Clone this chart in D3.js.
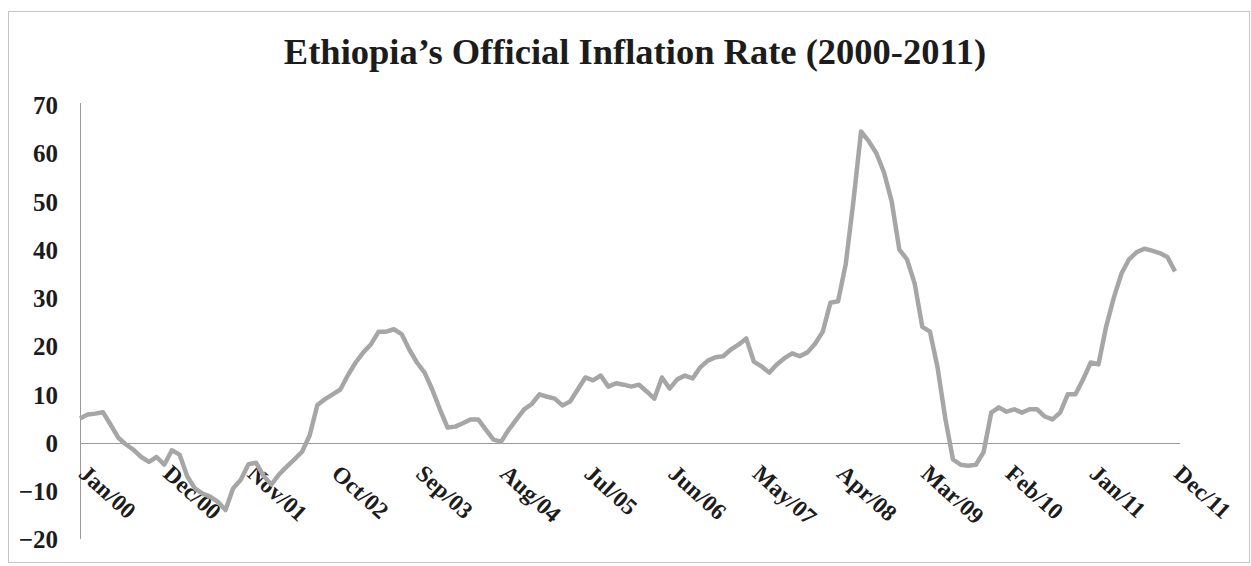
<!DOCTYPE html>
<html>
<head>
<meta charset="utf-8">
<script src="https://cdn.jsdelivr.net/npm/d3@7"></script>
<style>
  body { margin: 0; background: #fff; }
  text { font-family: "Liberation Serif", "Times New Roman", serif; font-weight: bold; fill: #1c1c1c; }
</style>
</head>
<body>
<svg id="chart" width="1251" height="566"></svg>
<script>
// monthly inflation, Jan 2000 .. Dec 2011
const inflation = [
  5, 5.8, 6, 6.3, 3.7, 1, -0.4, -1.5, -3, -4, -3, -4.6,
  -1.6, -2.5, -7, -9.5, -10.6, -11.2, -12.3, -14, -9.5, -7.7, -4.5, -4.2,
  -7, -8.7, -6.6, -5, -3.5, -1.9, 1.5, 7.8, 9, 10, 11, 14,
  16.6, 18.7, 20.4, 23, 23, 23.5, 22.5, 19.3, 16.6, 14.5, 11, 6.9,
  3.1, 3.3, 4, 4.8, 4.8, 2.7, 0.6, 0.2, 2.7, 4.8, 6.9, 8,
  10, 9.5, 9.1, 7.7, 8.5, 11, 13.5, 12.9, 13.9, 11.6, 12.3, 12,
  11.6, 12, 10.6, 9.1, 13.5, 11.2, 13.1, 13.9, 13.3, 15.6, 17, 17.7,
  17.9, 19.3, 20.3, 21.6, 16.8, 15.8, 14.5, 16.2, 17.5, 18.5, 17.9, 18.7,
  20.5, 23, 29, 29.3, 37, 50, 64.5, 62.5, 60, 56, 50, 40,
  38, 33, 24, 23, 15.5, 5, -3.5, -4.6, -4.8, -4.6, -2, 6.2,
  7.3, 6.4, 6.9, 6.2, 6.9, 6.9, 5.4, 4.8, 6.2, 10, 10, 13.1,
  16.6, 16.2, 24, 30, 35, 38, 39.5, 40.2, 39.8, 39.3, 38.5, 35.5
];

const tickLabels = ["Jan/00", "Dec/00", "Nov/01", "Oct/02", "Sep/03", "Aug/04", "Jul/05",
  "Jun/06", "May/07", "Apr/08", "Mar/09", "Feb/10", "Jan/11", "Dec/11"];
const yTicks = [-20, -10, 0, 10, 20, 30, 40, 50, 60, 70];

const svg = d3.select("#chart");
const width = +svg.attr("width");

const x = d3.scaleLinear([0, inflation.length - 1], [80, 1175]);
const y = d3.scaleLinear([-20, 70], [539, 105]);

// outer frame
svg.append("rect")
  .attr("x", 8.5).attr("y", 11.5)
  .attr("width", width - 10).attr("height", 551)
  .attr("fill", "none").attr("stroke", "#c4c4c4");

svg.append("text")
  .attr("x", 635).attr("y", 64)
  .attr("text-anchor", "middle")
  .style("font-size", "36.5px")
  .text("Ethiopia\u2019s Official Inflation Rate (2000-2011)");

// y axis
const yAxis = svg.append("g")
  .attr("transform", `translate(${x(0)},0)`)
  .call(d3.axisLeft(y).tickValues(yTicks).tickSize(0).tickPadding(22));
yAxis.select(".domain").attr("stroke", "#9a9a9a").attr("d", `M0.5,${y(70) - 2}V${y(-20)}`);
yAxis.selectAll("text").style("font-size", "25px").attr("dy", "0.35em");

// zero line
svg.append("line")
  .attr("x1", x(0)).attr("x2", x(inflation.length - 1) + 5)
  .attr("y1", Math.round(y(0)) + 0.5).attr("y2", Math.round(y(0)) + 0.5)
  .attr("stroke", "#9a9a9a");

// x axis labels, rotated
const xAxis = svg.append("g")
  .attr("transform", `translate(0,${y(0)})`)
  .call(d3.axisBottom(x)
    .tickValues(d3.range(0, inflation.length, 11))
    .tickFormat((d, i) => tickLabels[i])
    .tickSize(0));
xAxis.select(".domain").remove();
xAxis.selectAll("text")
  .attr("x", 0).attr("y", 0).attr("dy", 0)
  .attr("text-anchor", "start")
  .attr("transform", "translate(-3,33) rotate(42)")
  .style("font-size", "23.5px");

// the series
const line = d3.line()
  .x((d, i) => x(i))
  .y((d) => y(d));

svg.append("path")
  .datum(inflation)
  .attr("fill", "none")
  .attr("stroke", "#a6a6a6")
  .attr("stroke-width", 4.5)
  .attr("stroke-linejoin", "round")
  .attr("d", line);
</script>
</body>
</html>
